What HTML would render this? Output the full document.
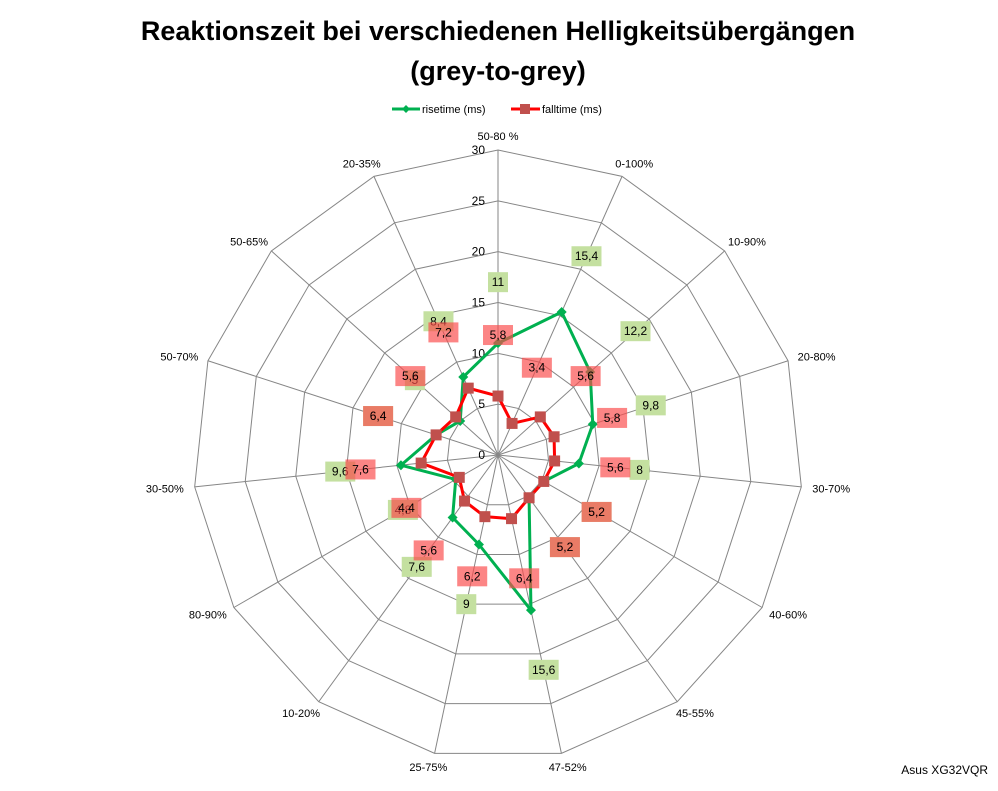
<!DOCTYPE html>
<html><head><meta charset="utf-8"><style>
body{margin:0;background:#fff;width:998px;height:786px;overflow:hidden;font-family:"Liberation Sans",sans-serif}
</style></head><body>
<svg id="chart" width="998" height="786" xmlns="http://www.w3.org/2000/svg" font-family="Liberation Sans, sans-serif">
<text x="498" y="40" text-anchor="middle" font-size="27" font-weight="bold">Reaktionszeit bei verschiedenen Helligkeitsübergängen</text>
<text x="498" y="80" text-anchor="middle" font-size="27" font-weight="bold">(grey-to-grey)</text>
<g>
<g>
<line x1="392" y1="109" x2="420" y2="109" stroke="#00b050" stroke-width="3"/>
<polygon points="406,105 410,109 406,113 402,109" fill="#00b050"/>
<text x="422" y="113" font-size="11">risetime (ms)</text></g>
<g>
<line x1="511" y1="109" x2="540" y2="109" stroke="#ff0000" stroke-width="3"/>
<rect x="520" y="104" width="10" height="10" fill="#c0504d"/>
<text x="542" y="113" font-size="11">falltime (ms)</text></g>
</g>
<g id="grid"></g><g id="series"></g><g id="labels"></g>
<text x="988" y="774" text-anchor="end" font-size="12">Asus XG32VQR</text>
</svg>
<script>
const categories=["50-80 %","0-100%","10-90%","20-80%","30-70%","40-60%","45-55%","47-52%","25-75%","10-20%","80-90%","30-50%","50-70%","50-65%","20-35%"];
const rise=[11,15.4,12.2,9.8,8,5.2,5.2,15.6,9,7.6,4.8,9.6,6.4,5,8.4];
const fall=[5.8,3.4,5.6,5.8,5.6,5.2,5.2,6.4,6.2,5.6,4.4,7.6,6.4,5.6,7.2];
const riseLabels=["11","15,4","12,2","9,8","8","5,2","5,2","15,6","9","7,6","4,8","9,6","6,4","5","8,4"];
const fallLabels=["5,8","3,4","5,6","5,8","5,6","5,2","5,2","6,4","6,2","5,6","4,4","7,6","6,4","5,6","7,2"];
const ticks=[0,5,10,15,20,25,30];
const NS="http://www.w3.org/2000/svg";
const cx=498,cy=455,R=305,maxV=30,n=categories.length;
function ang(i){return i*2*Math.PI/n;}
function px(i,v){return cx+Math.sin(ang(i))*v/maxV*R;}
function py(i,v){return cy-Math.cos(ang(i))*v/maxV*R;}
function mk(tag,attrs,parent){const e=document.createElementNS(NS,tag);for(const k in attrs)e.setAttribute(k,attrs[k]);parent.appendChild(e);return e;}
const grid=document.getElementById('grid'),ser=document.getElementById('series'),lab=document.getElementById('labels');
ticks.forEach((t,k)=>{if(t===0)return;
 const pts=categories.map((c,i)=>px(i,t)+","+py(i,t)).join(" ");
 const p=mk('polygon',{points:pts,fill:"none",stroke:"#868686","stroke-width":1},grid);
 
 });
categories.forEach((c,i)=>{
 const l=mk('line',{x1:cx,y1:cy,x2:px(i,maxV),y2:py(i,maxV),stroke:"#868686","stroke-width":1},grid);
 
 
 const a=ang(i);
 const tx=cx+Math.sin(a)*(R+30),ty=cy-Math.cos(a)*(R+14)+4;
 const t=mk('text',{x:tx,y:ty,"text-anchor":"middle","font-size":11},grid);
 t.textContent=c;
 
 });
ticks.forEach(t=>{const e=mk('text',{x:cx-13,y:py(0,t)+4,"text-anchor":"end","font-size":12},grid);e.textContent=t;
 
 });
function series(vals,color,name){
 const pts=vals.map((v,i)=>px(i,v)+","+py(i,v)).join(" ");
 const pl=mk('polygon',{points:pts,fill:"none",stroke:color,"stroke-width":3,"stroke-linejoin":"round"},ser);
 
 }
series(rise,"#00b050","risetime");
series(fall,"#ff0000","falltime");
rise.forEach((v,i)=>{const x=px(i,v),y=py(i,v);
 const m=mk('polygon',{points:`${x},${y-5} ${x+5},${y} ${x},${y+5} ${x-5},${y}`,fill:"#00b050"},ser);
 
 });
fall.forEach((v,i)=>{const x=px(i,v),y=py(i,v);
 const m=mk('rect',{x:x-5.5,y:y-5.5,width:11,height:11,fill:"#c0504d"},ser);
 
 });
function labels(vals,txt,fill,name){vals.forEach((v,i)=>{const x=px(i,v+6),y=py(i,v+6);
 const w=txt[i].length>2?30:20;
 const g=mk('g',{},lab);
 
 
 mk('rect',{x:x-w/2,y:y-10,width:w,height:20,fill:fill},g);
 const t=mk('text',{x:x,y:y+4,"text-anchor":"middle","font-size":12},g);t.textContent=txt[i];});}
labels(rise,riseLabels,"#c4e0a0","risetime");
labels(fall,fallLabels,"rgba(250,75,75,0.68)","falltime");
</script>
</body></html>
